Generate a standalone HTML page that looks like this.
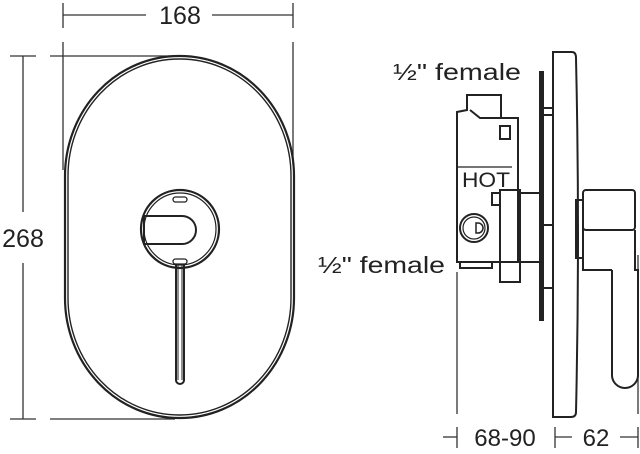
<!DOCTYPE html>
<html><head><meta charset="utf-8"><style>
html,body{margin:0;padding:0;background:#fff;}
svg{display:block;}
text{font-family:"Liberation Sans",sans-serif;fill:#222;}
</style></head><body>
<svg width="640" height="454" viewBox="0 0 640 454" xmlns="http://www.w3.org/2000/svg">
<g stroke="#333" stroke-width="1.3" fill="none">
<line x1="63" y1="3" x2="63" y2="28"/><line x1="293" y1="3" x2="293" y2="28"/>
<line x1="63" y1="15" x2="146" y2="15"/><line x1="212" y1="15" x2="293" y2="15"/>
<line x1="63" y1="42" x2="63" y2="170"/><line x1="293" y1="42" x2="293" y2="165"/>
<line x1="10" y1="56" x2="36" y2="56"/><line x1="50" y1="56" x2="180" y2="56"/>
<line x1="10" y1="419" x2="36" y2="419"/><line x1="50" y1="419" x2="175" y2="419"/>
<line x1="23" y1="56" x2="23" y2="212"/><line x1="23" y1="263" x2="23" y2="419"/>
<line x1="457" y1="272" x2="457" y2="414"/><line x1="638" y1="255" x2="638" y2="414"/>
<line x1="457" y1="427" x2="457" y2="448"/><line x1="555" y1="427" x2="555" y2="448"/><line x1="638" y1="427" x2="638" y2="448"/>
<line x1="443" y1="437" x2="457" y2="437"/><line x1="555" y1="437" x2="572" y2="437"/><line x1="620" y1="437" x2="638" y2="437"/>
</g>
<text x="180" y="24" font-size="25" text-anchor="middle">168</text>
<text x="23" y="247" font-size="25" text-anchor="middle">268</text>
<text x="505" y="446" font-size="24" text-anchor="middle">68-90</text>
<text x="596" y="446" font-size="24" text-anchor="middle">62</text>
<text x="393" y="80" font-size="23" textLength="128" lengthAdjust="spacingAndGlyphs">½" female</text>
<text x="318" y="273" font-size="23" textLength="127" lengthAdjust="spacingAndGlyphs">½" female</text>
<g stroke="#222" fill="none">
<rect x="65" y="56" width="229" height="362" rx="114" ry="120" stroke-width="2.2"/>
<rect x="68" y="59" width="223" height="356" rx="111" ry="117" stroke-width="1.4"/>
<circle cx="180" cy="229" r="39" stroke-width="2.2"/>
<circle cx="180" cy="229" r="36" stroke-width="1.2"/>
<path d="M144 216 H182 A14 14 0 0 1 182 244 H144 Z" stroke-width="2"/>
<rect x="173" y="197" width="14" height="5" rx="2.5" stroke-width="1.3"/>
<rect x="173" y="259" width="14" height="5" rx="2.5" stroke-width="1.3"/>
<path d="M176 264 V380 A4 4 0 0 0 184 380 V264" stroke-width="2"/>
<path d="M178 265 V380 M182 265 V380" stroke-width="1"/>
</g>
<g stroke="#222" fill="none" stroke-width="2">
<path d="M553 52 H572 Q576 52 576 58 Q580 235 576 412 Q576 417 571 417 H553 Z"/>
<rect x="540" y="72" width="3" height="248" fill="#222"/>
<line x1="543" y1="108" x2="553" y2="108"/><line x1="543" y1="115" x2="553" y2="115"/>
<line x1="543" y1="225" x2="553" y2="225"/><line x1="543" y1="288" x2="553" y2="288"/>
<path d="M457 112 V262 H518 V118 H501 V95 H467 V110 Z"/>
<path d="M470 110 L480 118 H501"/>
<rect x="500" y="126" width="10" height="13"/>
<rect x="500" y="190" width="20" height="92"/>
<rect x="520" y="193" width="20" height="69"/>
<rect x="492" y="193" width="8" height="12"/>
<circle cx="474" cy="228" r="14"/><circle cx="474" cy="228" r="11" stroke-width="1.2"/>
<path d="M476 223 H478 A5 5 0 0 1 478 233 H476 Z" stroke-width="1.5"/>
<rect x="460" y="262" width="32" height="6"/>
<rect x="576" y="200" width="7" height="58"/>
<rect x="583" y="190" width="52" height="40" rx="3"/>
<path d="M583 230 V270 H612"/>
<path d="M612 270 V375 A13 13 0 0 0 638 375 V270 H635 V230"/>
</g>
<line x1="457" y1="167" x2="512" y2="167" stroke="#222" stroke-width="1.2"/>
<text x="462" y="187" font-size="21" textLength="48" lengthAdjust="spacingAndGlyphs" fill="#333">HOT</text>
</svg>
</body></html>
